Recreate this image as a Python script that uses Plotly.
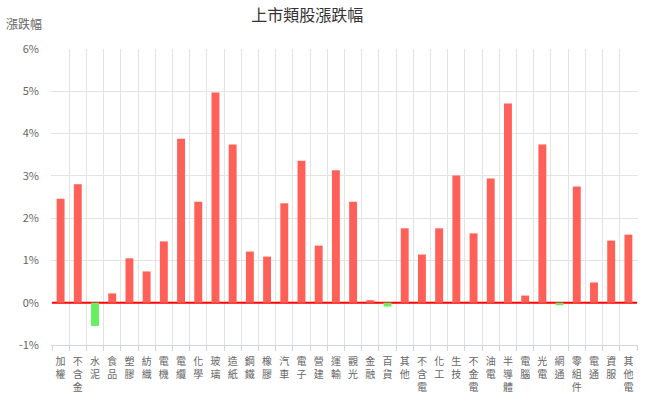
import plotly.graph_objects as go

categories = ["加權", "不含金", "水泥", "食品", "塑膠", "紡織", "電機", "電纜", "化學", "玻璃",
              "造紙", "鋼鐵", "橡膠", "汽車", "電子", "營建", "運輸", "觀光", "金融", "百貨",
              "其他", "不含電", "化工", "生技", "不金電", "油電", "半導體", "電腦", "光電", "網通",
              "零組件", "電通", "資服", "其他電"]
values = [2.46, 2.80, -0.55, 0.22, 1.05, 0.74, 1.45, 3.88, 2.39, 4.97,
          3.74, 1.21, 1.09, 2.35, 3.36, 1.35, 3.13, 2.39, 0.06, -0.09,
          1.76, 1.14, 1.76, 3.01, 1.64, 2.94, 4.71, 0.17, 3.74, -0.06,
          2.75, 0.48, 1.47, 1.61]
y_ticks = [-1, 0, 1, 2, 3, 4, 5, 6]

RED = "#ff6159"
GREEN = "#66f060"
colors = [RED if v >= 0 else GREEN for v in values]
tick_text = ["<br>".join(list(c)) for c in categories]

FONT = "Noto Sans CJK TC, Noto Sans, sans-serif"

fig = go.Figure()
fig.add_trace(go.Bar(
    x=categories, y=values, marker=dict(color=colors, line=dict(width=0)),
    hovertemplate="%{x}: %{y:.2f}%<extra></extra>",
))

fig.add_shape(type="line", xref="x", x0=-0.5, x1=len(categories) - 0.5, yref="y", y0=0, y1=0,
              line=dict(color="#ff0000", width=2), layer="between")

fig.update_layout(
    width=654, height=398,
    margin=dict(l=51, r=16, t=49, b=53),
    paper_bgcolor="white", plot_bgcolor="white",
    font=dict(family=FONT, size=11, color="#666666"),
    title=dict(text="上市類股漲跌幅", x=0.47, xanchor="center", y=0.962, yanchor="middle",
               font=dict(size=16, color="#333333", family=FONT)),
    bargap=0.54,
    showlegend=False,
    annotations=[dict(text="漲跌幅", xref="paper", yref="paper", x=-0.08, y=1.085,
                      xanchor="left", yanchor="middle", showarrow=False,
                      font=dict(size=12, color="#666666", family=FONT))],
)
fig.update_xaxes(
    type="category", tickmode="array", tickvals=categories, ticktext=tick_text,
    tickson="boundaries", showgrid=True, gridcolor="#e3e3e3", gridwidth=1,
    showline=True, linecolor="#ccd6eb", linewidth=1,
    ticks="outside", ticklen=5, tickcolor="#ccd6eb",
    tickangle=0, tickfont=dict(size=10, color="#666666"),
    ticklabelstandoff=7,
    mirror=False, automargin=False,
)
fig.update_yaxes(
    range=[-1, 6], tickvals=y_ticks, ticktext=[f"{t}%" for t in y_ticks],
    showgrid=True, gridcolor="#e3e3e3", gridwidth=1, zeroline=False,
    showline=False, ticks="", tickfont=dict(size=11, color="#666666"),
    ticklabelstandoff=11,
    automargin=False,
)

fig.write_html("out.html", config={"displayModeBar": False},
               post_script="document.body.style.margin='0';document.body.style.padding='0';")
